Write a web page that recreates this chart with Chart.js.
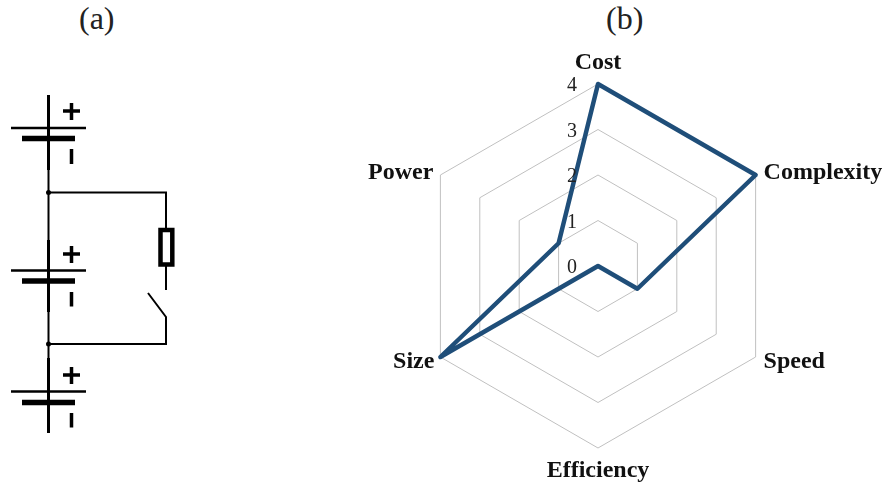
<!DOCTYPE html>
<html>
<head>
<meta charset="utf-8">
<style>
html,body{margin:0;padding:0;background:#fff;width:886px;height:489px;overflow:hidden}
#circuit{position:absolute;left:0;top:0}
#wrap{position:absolute;left:340px;top:0;width:546px;height:489px}
.t{position:absolute;top:0px;font:32px "Liberation Serif",serif;color:#222}
</style>
<script src="https://cdn.jsdelivr.net/npm/chart.js@4"></script>
</head>
<body>
<svg id="circuit" width="340" height="489" fill="none" stroke="#000">
  <!-- battery 1 -->
  <path stroke-width="3" d="M48.5 95V170"/>
  <path stroke-width="2.5" d="M11 128H86"/>
  <path stroke-width="5.5" d="M22 138.5H75"/>
  <path stroke-width="3.500" d="M63 111H80M71.500 103V120M71.500 149V164"/>
  <!-- middle wire -->
  <path stroke-width="2" d="M48.500 170V240"/>
  <path stroke-width="3" d="M48.500 240V312"/>
  <path stroke-width="2.500" d="M11 270.500H86"/>
  <path stroke-width="5.500" d="M22 281H75"/>
  <path stroke-width="3.500" d="M63 254H80M71.500 246V263M71.500 292V306.500"/>
  <path stroke-width="2" d="M48.500 312V358"/>
  <!-- battery 3 -->
  <path stroke-width="3" d="M48.500 358V433"/>
  <path stroke-width="2.500" d="M11 391.500H86"/>
  <path stroke-width="5.500" d="M22 402.500H75"/>
  <path stroke-width="3.500" d="M63 375H80M71.500 367V384M71.500 413V427.500"/>
  <!-- branch -->
  <path stroke-width="2" d="M48.500 192.500H166V228"/>
  <rect x="160.500" y="230" width="11.800" height="34.500" stroke-width="4.500"/>
  <path stroke-width="2" d="M166 266V290"/>
  <path stroke-width="2" d="M148 293L166 317V344H48.500"/>
  <circle cx="48.500" cy="192.500" r="2.500" fill="#000" stroke="none"/>
  <circle cx="48.500" cy="344" r="2.500" fill="#000" stroke="none"/>
</svg>
<div class="t" style="left:79px">(a)</div>
<div class="t" style="left:606px">(b)</div>
<div id="wrap"><canvas id="c" width="546" height="489"></canvas></div>
<script>
const categories = ["Cost", "Complexity", "Speed", "Efficiency", "Size", "Power"];
const values = [4, 4, 1, 0, 4, 1];
const tickLabels = ["0", "1", "2", "3", "4"];

const labelOffsets = [[0, -21, "center"], [8, -2, "left"], [8, 5, "left"], [0, 23, "center"], [-6, 5, "right"], [-7, -2, "right"]];

const textPlugin = {
  id: "radarText",
  afterDatasetsDraw(chart) {
    const s = chart.scales.r, ctx = chart.ctx;
    ctx.save();
    ctx.textBaseline = "middle";
    ctx.fillStyle = "#111";
    ctx.font = 'bold 24px "Liberation Serif", serif';
    categories.forEach((name, i) => {
      const p = s.getPointPosition(i, s.drawingArea);
      const o = labelOffsets[i];
      ctx.textAlign = o[2];
      ctx.fillText(name, p.x + o[0], p.y + o[1]);
    });
    ctx.font = '20px "Liberation Serif", serif';
    ctx.fillStyle = "#222";
    ctx.textAlign = "center";
    s.ticks.forEach(t => {
      const d = s.getDistanceFromCenterForValue(t.value);
      ctx.fillText(t.label, s.xCenter - 26, s.yCenter - d + 2);
    });
    ctx.restore();
  }
};

new Chart(document.getElementById("c"), {
  type: "radar",
  data: {
    labels: categories,
    datasets: [{
      data: values,
      borderColor: "#1f4e79",
      borderWidth: 4.5,
      borderJoinStyle: "round",
      backgroundColor: "transparent",
      fill: false,
      tension: 0,
      pointRadius: 0,
      clip: false
    }]
  },
  options: {
    responsive: false,
    animation: false,
    layout: { padding: { top: 84, bottom: 41, left: 0, right: 30 } },
    plugins: { legend: { display: false }, title: { display: false }, tooltip: { enabled: false } },
    scales: {
      r: {
        min: 0, max: 4,
        ticks: { stepSize: 1, display: false, callback: v => tickLabels[v] },
        grid: { color: "#c0c0c0", lineWidth: 1, circular: false },
        angleLines: { display: false },
        pointLabels: { display: false }
      }
    }
  },
  plugins: [textPlugin]
});
</script>
</body>
</html>
